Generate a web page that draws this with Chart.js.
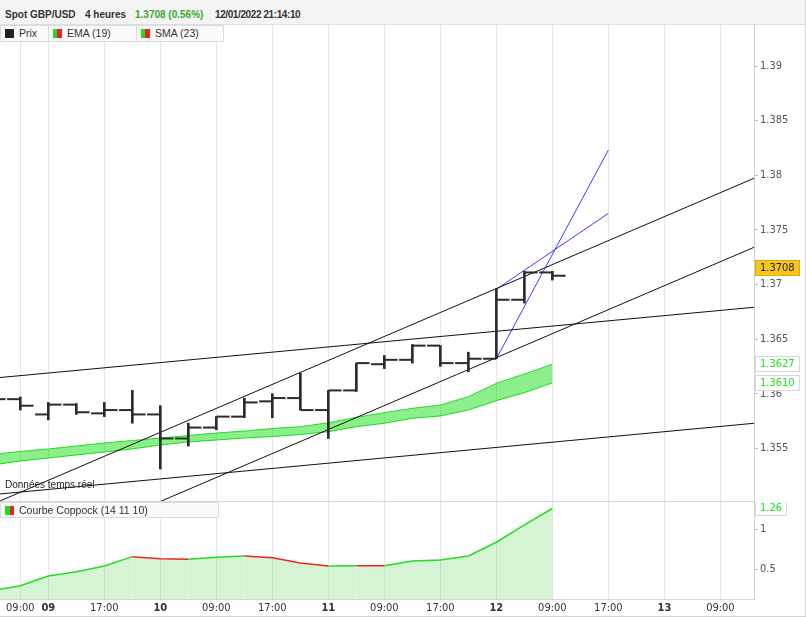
<!DOCTYPE html>
<html lang="fr">
<head>
<meta charset="utf-8">
<title>Spot GBP/USD</title>
<script src="https://cdn.jsdelivr.net/npm/chart.js@4.4.1/dist/chart.umd.min.js"></script>
<style>
  html,body{margin:0;padding:0;background:#fff;}
  #wrap{position:relative;width:806px;height:617px;overflow:hidden;font-family:"Liberation Sans",Arial,sans-serif;color:#333;}
  #frame{position:absolute;left:0;top:0;width:805px;height:616px;border-right:1px solid #d4d4d4;border-bottom:1px solid #d4d4d4;pointer-events:none;}
  #head{position:absolute;left:0;top:0;width:806px;height:24px;background:#f4f4f4;border-bottom:1px solid #dedede;}
  #head span{position:absolute;top:8px;font-size:10px;line-height:13px;font-weight:bold;white-space:nowrap;}
  canvas{position:absolute;left:0;}
  .leg{position:absolute;box-sizing:border-box;height:17px;border:1px solid #dcdcdc;background:#fafafa;font-size:10.5px;line-height:15px;white-space:nowrap;}
  .leg i{position:absolute;left:4px;top:3px;width:9px;height:9px;}
  .leg b{position:absolute;left:18px;top:0;font-weight:normal;}
  #rt{position:absolute;left:5px;top:479px;font-size:10px;color:#222;}
</style>
</head>
<body>
<div id="wrap">
  <canvas id="priceChart" width="806" height="477" style="top:25px"></canvas>
  <canvas id="coppChart" width="806" height="115" style="top:502px"></canvas>

  <div id="head">
    <span style="left:5px">Spot GBP/USD</span>
    <span style="left:85px">4 heures</span>
    <span style="left:135px;color:#38a82a">1.3708 (0.56%)</span>
    <span style="left:215px;letter-spacing:-0.4px">12/01/2022 21:14:10</span>
  </div>

  <div class="leg" style="left:0;top:25px;width:49px"><i style="background:#222"></i><b>Prix</b></div>
  <div class="leg" style="left:48px;top:25px;width:89px"><i style="background:linear-gradient(90deg,#22dd22 45%,#ee2020 45%)"></i><b>EMA (19)</b></div>
  <div class="leg" style="left:136px;top:25px;width:88px"><i style="background:linear-gradient(90deg,#22dd22 45%,#ee2020 45%)"></i><b>SMA (23)</b></div>
  <div id="rt">Données temps réel</div>
  <div class="leg" style="left:0;top:502px;width:219px;height:16px"><i style="background:linear-gradient(90deg,#22dd22 50%,#ee2020 50%)"></i><b>Courbe Coppock (14 11 10)</b></div>

  <div id="frame"></div>
</div>

<script>
// ========== Data (4h bars, slot = bar position) ==========
const barSlot = [-1,0,1,2,3,4,5,6,7,8,9,10,11,12,13,14,15,16,17,18,19];
const openP  = [1.3597,1.3595,1.3581,1.3590,1.3582,1.3585,1.3581,1.3559,1.3569,1.3579,1.3593,1.3596,1.3585,1.3603,1.3627,1.3631,1.3644,1.3628,1.3632,1.3686,1.3711];
const highP  = [1.3600,1.3597,1.3592,1.3591,1.3592,1.3603,1.3589,1.3573,1.3579,1.3596,1.3600,1.3619,1.3603,1.3628,1.3635,1.3645,1.3644,1.3638,1.3696,1.3712,1.3712];
const lowP   = [1.3592,1.3585,1.3576,1.3581,1.3579,1.3573,1.3531,1.3552,1.3567,1.3578,1.3578,1.3585,1.3559,1.3602,1.3623,1.3628,1.3625,1.3620,1.3632,1.3683,1.3704];
const closeP = [1.3595,1.3589,1.3590,1.3583,1.3585,1.3581,1.3559,1.3569,1.3579,1.3592,1.3596,1.3585,1.3603,1.3628,1.3631,1.3644,1.3628,1.3632,1.3686,1.3711,1.3708];

const ema19 = [1.35443,1.35471,1.35494,1.35521,1.35549,1.35571,1.35594,1.35617,1.35640,1.35658,1.35681,1.35698,1.35734,1.35784,1.35826,1.35866,1.35896,1.35972,1.36095,1.36180,1.3627];
const sma23 = [1.35347,1.35384,1.35411,1.35439,1.35466,1.35494,1.35530,1.35558,1.35576,1.35594,1.35608,1.35626,1.35652,1.35698,1.35729,1.35775,1.35796,1.35851,1.35936,1.36009,1.3610];

const coppock = [0.235,0.295,0.416,0.470,0.541,0.658,0.633,0.625,0.650,0.666,0.645,0.579,0.541,0.546,0.545,0.604,0.616,0.666,0.838,1.054,1.26];

// drawn lines: [slot, price] pairs
const channelTop   = [[-0.725,1.35018],[26.2,1.37972]];
const channelBot   = [[-0.725,1.34385],[26.2,1.37340]];
const flatTop      = [[-0.725,1.36148],[26.2,1.36791]];
const flatBot      = [[-0.725,1.35082],[26.2,1.35729]];
const fanSteep     = [[17,1.3632],[21,1.38231]];
const fanSoft      = [[17,1.36956],[21,1.37651]];

const xTickPos    = [0,1,3,5,7,9,11,13,15,17,19,21,23,25];
const xTickLabels = ['09:00','09','17:00','10','09:00','17:00','11','09:00','17:00','12','09:00','17:00','13','09:00'];
const dayLabels   = ['09','10','11','12','13'];
const priceTicks  = [1.355,1.36,1.365,1.37,1.375,1.38,1.385,1.39];
const coppTicks   = [0.5,1];

// ========== Layout constants ==========
const X_MIN = -0.725, X_MAX = 26.2;
const P_MIN = 1.350176, P_MAX = 1.393754;
const C_MIN = 0.129, C_MAX = 1.341;
const AXIS_W = 52;
const TICK_OFF = 0.24, TICK_R = 6.5;
const INK = '#2b2b2b';
const GREEN = '#22dd22', RED = '#ee2424';
const AXIS_FONT = {family:'"DejaVu Sans Condensed","DejaVu Sans",sans-serif', size:11};

const pts = arr => arr.map(p=>({x:p[0], y:p[1]}));
const fmtPrice = v => String(+Number(v).toFixed(3));
const last = arr => arr[arr.length-1];

// ========== Plugin: value tags on the right axis ==========
function valueTags(items){
  return {
    id:'valueTags',
    afterDraw(chart){
      const ctx = chart.ctx, ys = chart.scales.y, x0 = chart.chartArea.right + 1;
      items.forEach(t=>{
        const yc = Math.round(ys.getPixelForValue(t.value) + (t.shift||0));
        ctx.save();
        ctx.font = '11px "DejaVu Sans Condensed","DejaVu Sans",sans-serif';
        const w = Math.round(ctx.measureText(t.text).width) + 10;
        ctx.fillStyle = t.bg;
        ctx.fillRect(x0, yc-8, w, 16);
        ctx.strokeStyle = t.border;
        ctx.lineWidth = 1;
        ctx.strokeRect(x0+0.5, yc-7.5, w-1, 15);
        ctx.fillStyle = t.color;
        ctx.textBaseline = 'middle';
        ctx.fillText(t.text, x0+5, yc+0.5);
        ctx.restore();
      });
    }
  };
}

function xScale(showLabels){
  return {
    type:'linear', min:X_MIN, max:X_MAX, offset:false,
    afterBuildTicks: s=>{ s.ticks = xTickPos.map(v=>({value:v})); },
    ticks:{
      display:showLabels, autoSkip:false, maxRotation:0, padding:3, color:'#333',
      callback:(v,i)=>xTickLabels[i],
      font: c=>({...AXIS_FONT, weight: dayLabels.includes(xTickLabels[c.index]) ? 'bold' : 'normal'})
    },
    grid:{color:'#e6e6e6', lineWidth:1, drawTicks:false, offset:false},
    border:{display:true, color:'#d6d6d6'},
    afterFit: s=>{ s.height = showLabels ? 18 : 1; s.paddingLeft = 0; s.paddingRight = 0; }
  };
}

function yScale(min, max, ticks, fmt){
  return {
    position:'right', min, max,
    afterBuildTicks: s=>{ s.ticks = ticks.map(v=>({value:v})); },
    ticks:{color:'#555', font:AXIS_FONT, padding:2, callback:fmt},
    grid:{drawOnChartArea:false, drawTicks:true, tickLength:4, color:'#bdbdbd'},
    border:{display:true, color:'#d0d0d0'},
    afterFit: s=>{ s.width = AXIS_W; s.paddingTop = 0; s.paddingBottom = 0; }
  };
}

function lineSet(p, color){
  return {type:'line', data:pts(p), borderColor:color, borderWidth:1, pointRadius:0, fill:false, order:2};
}

// ========== Price chart ==========
new Chart(document.getElementById('priceChart').getContext('2d'), {
  type:'bar',
  data:{datasets:[
    {type:'scatter', data:barSlot.map((x,k)=>({x:x-TICK_OFF, y:openP[k]})),
     pointStyle:'line', pointRadius:TICK_R, pointBorderWidth:2, pointBorderColor:INK, borderColor:INK, order:0},
    {type:'scatter', data:barSlot.map((x,k)=>({x:x+TICK_OFF, y:closeP[k]})),
     pointStyle:'line', pointRadius:TICK_R, pointBorderWidth:2, pointBorderColor:INK, borderColor:INK, order:0},
    {type:'bar', data:barSlot.map((x,k)=>({x, y:[lowP[k], highP[k]]})),
     backgroundColor:INK, borderWidth:0, barThickness:2, order:1},
    lineSet(channelTop,'#111'),
    lineSet(channelBot,'#111'),
    lineSet(flatTop,'#111'),
    lineSet(flatBot,'#111'),
    lineSet(fanSteep,'#3a3aff'),
    lineSet(fanSoft,'#3a3aff'),
    {type:'line', data:barSlot.map((x,k)=>({x, y:ema19[k]})), borderColor:GREEN, borderWidth:1,
     pointRadius:0, fill:'+1', backgroundColor:'rgba(0,220,0,0.45)', order:3},
    {type:'line', data:barSlot.map((x,k)=>({x, y:sma23[k]})), borderColor:GREEN, borderWidth:1,
     pointRadius:0, fill:false, order:3}
  ]},
  options:{
    responsive:false, animation:false, events:[],
    layout:{padding:0, autoPadding:false},
    scales:{ x:xScale(false), y:yScale(P_MIN, P_MAX, priceTicks, fmtPrice) },
    plugins:{ legend:{display:false}, tooltip:{enabled:false} }
  },
  plugins:[valueTags([
    {value:last(closeP), text:last(closeP).toFixed(4), bg:'#f7c51c', border:'#e4a900', color:'#222', shift:-8},
    {value:last(ema19), text:last(ema19).toFixed(4), bg:'#fff', border:'#d8d8d8', color:'#1fe01f'},
    {value:last(sma23), text:last(sma23).toFixed(4), bg:'#fff', border:'#d8d8d8', color:'#1fe01f'}
  ])]
});

// ========== Coppock chart ==========
new Chart(document.getElementById('coppChart').getContext('2d'), {
  type:'line',
  data:{datasets:[{
    data:barSlot.map((x,k)=>({x, y:coppock[k]})),
    borderColor:GREEN, borderWidth:1.5, pointRadius:0,
    fill:'start', backgroundColor:'rgba(40,200,40,0.2)',
    segment:{borderColor: c => c.p1.parsed.y < c.p0.parsed.y ? RED : GREEN}
  }]},
  options:{
    responsive:false, animation:false, events:[],
    layout:{padding:0, autoPadding:false},
    scales:{ x:xScale(true), y:yScale(C_MIN, C_MAX, coppTicks, v=>String(v)) },
    plugins:{ legend:{display:false}, tooltip:{enabled:false} }
  },
  plugins:[valueTags([
    {value:last(coppock), text:last(coppock).toFixed(2), bg:'#fff', border:'#d8d8d8', color:'#1fe01f'}
  ])]
});
</script>
</body>
</html>
